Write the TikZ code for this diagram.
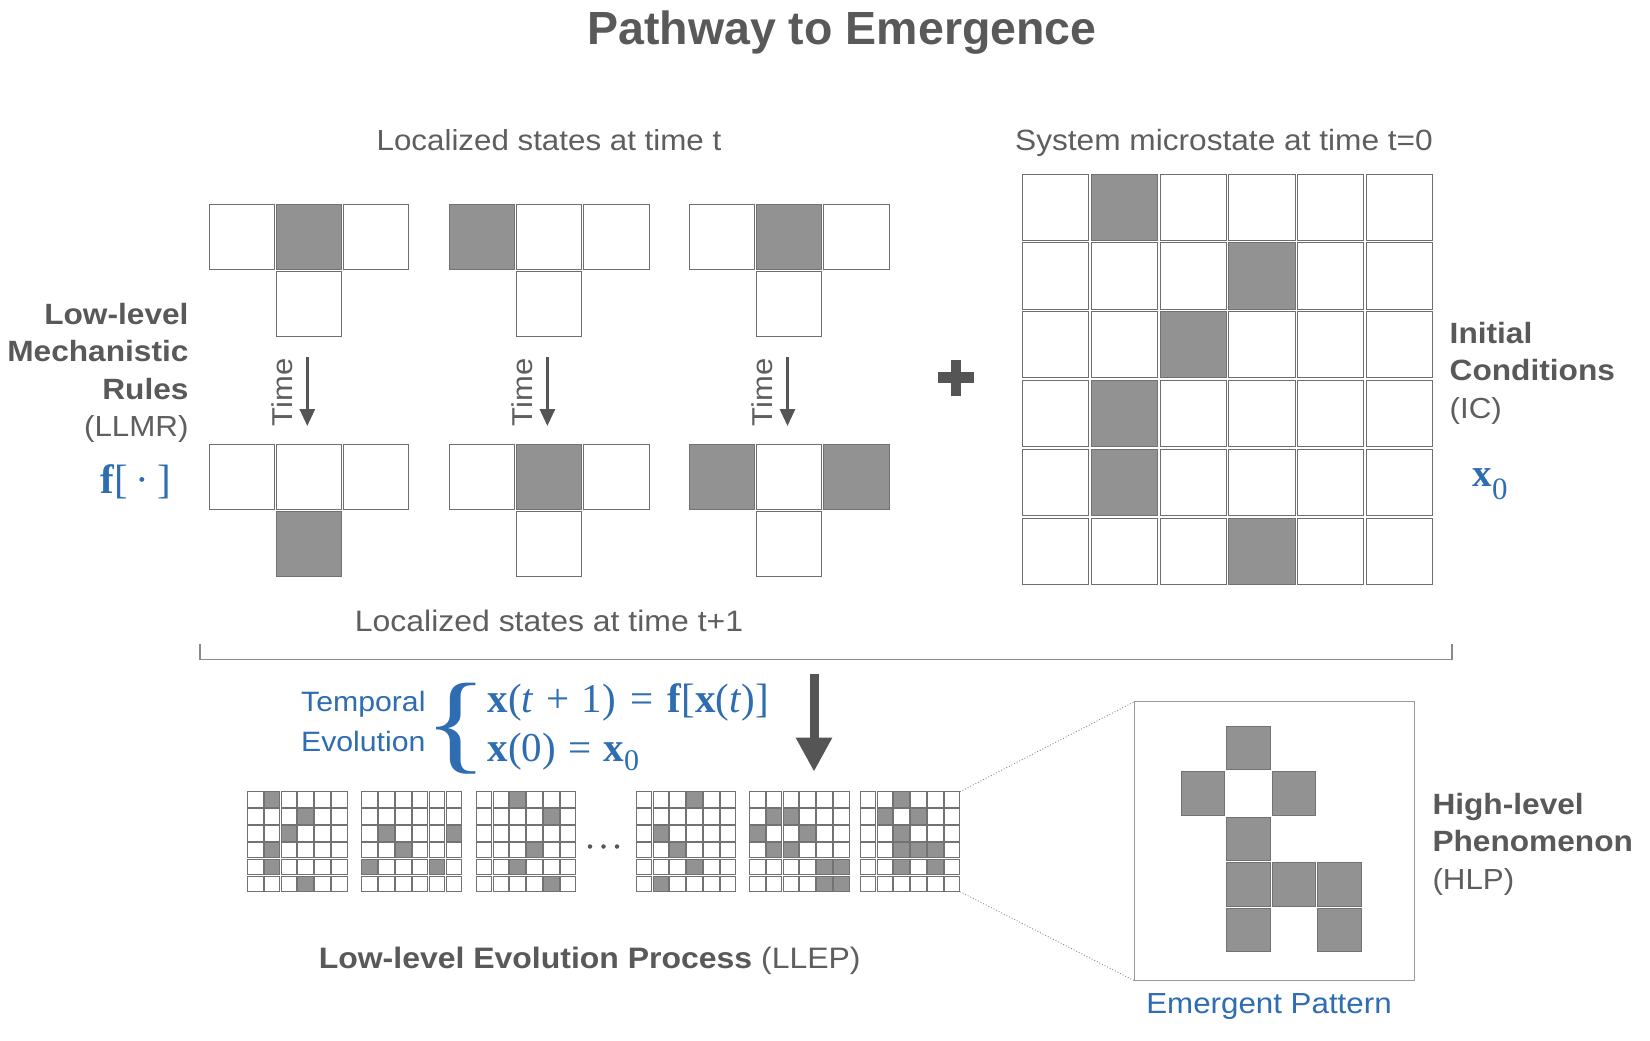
\documentclass[tikz,border=0pt]{standalone}
\usepackage{fontspec}
\setmainfont{Liberation Sans}[FakeStretch=1.08]
\newfontfamily\titlefont{Liberation Sans}
\newfontfamily\serifm{Liberation Serif}
\usepackage{graphicx}
\usetikzlibrary{arrows.meta}
\definecolor{txt}{HTML}{5E5E5E}
\definecolor{btxt}{HTML}{595959}
\definecolor{blu}{HTML}{2E6DB1}
\definecolor{cellgray}{HTML}{929292}
\definecolor{cellgrayline}{HTML}{727272}
\definecolor{cellline}{HTML}{6E6E6E}
\definecolor{smallline}{HTML}{727272}
\definecolor{boxc}{HTML}{9A9A9A}
\definecolor{dotline}{HTML}{8A8A8A}
\definecolor{bracec}{HTML}{8A8A8A}
\definecolor{arrowc}{HTML}{555555}
\newcommand\fsz[1]{\fontsize{#1}{#1}\selectfont}
\newcommand\Tshape[7]{%
  \node[#4] (#1a) at ({#2+32.65},{#3+32.65}) {};
  \node[#5] (#1b) at ({#2+99.95},{#3+32.65}) {};
  \node[#6] (#1c) at ({#2+167.25},{#3+32.65}) {};
  \node[#7] (#1d) at ({#2+99.95},{#3+99.95}) {};
}
\newcommand\smallgrid[3]{%
  \foreach \ii in {0,...,5}{\foreach \jj in {0,...,5}{%
    \node[swc] (#2-\ii-\jj) at ({#1+7.9+\jj*16.83},{791.7+7.9+\ii*16.83}) {};}}
  \foreach \ii/\jj in {#3}{%
    \node[sgc] (#2g-\ii-\jj) at ({#1+7.9+\jj*16.83},{791.7+7.9+\ii*16.83}) {};}
}
\begin{document}
\begin{tikzpicture}[x=1pt,y=-1pt,
  wc/.style={draw=cellline, fill=white, line width=1pt, minimum size=65.3pt, inner sep=0pt, outer sep=0pt},
  gc/.style={wc, fill=cellgray, draw=cellgrayline},
  bwc/.style={wc, minimum size=66.3pt},
  bgc/.style={gc, minimum size=66.3pt},
  swc/.style={draw=smallline, fill=white, line width=0.8pt, minimum size=15.6pt, inner sep=0pt, outer sep=0pt},
  sgc/.style={swc, fill=cellgray, draw=cellgrayline},
  egc/.style={gc, minimum size=43.5pt, line width=0.9pt},
  lbl/.style={text=txt, inner sep=0pt, outer sep=0pt, font=\fsz{29}},
  blbl/.style={lbl, text=btxt, font=\bfseries\fsz{29.3}},
  bluelbl/.style={text=blu, inner sep=0pt, outer sep=0pt},
  tarrow/.style={draw=arrowc, line width=3pt, -{Triangle[width=15pt,length=17pt]}},
]
\fill[white] (0,0) rectangle (1650,1041);
\useasboundingbox (0,0) rectangle (1650,1041);

% title
\node[text=btxt, inner sep=0pt, anchor=base, font=\titlefont\bfseries\fsz{46.5}] (title) at (842,45) {Pathway to Emergence};

% headings
\node[lbl, anchor=base] (loct) at (549,150) {Localized states at time t};
\node[lbl, anchor=base, font=\fsz{29.3}] (sysm) at (1224,150) {System microstate at time t=0};
\node[lbl, anchor=base, font=\fsz{29.6}] (loct1) at (549,631.7) {Localized states at time t+1};

% left labels
\node[blbl, anchor=base east] (llmr1) at (188.5,324) {Low-level};
\node[blbl, anchor=base east] (llmr2) at (188.5,361.7) {Mechanistic};
\node[blbl, anchor=base east] (llmr3) at (188.5,399.3) {Rules};
\node[lbl, anchor=base east] (llmr4) at (188.5,436.8) {(LLMR)};
\node[bluelbl, anchor=base east, font=\serifm\fsz{41}] (fdot) at (171.5,493.3) {\textbf{f}[\hspace{.2em}·\hspace{.2em}]};

% right labels
\node[blbl, anchor=base west] (ic1) at (1449.7,343.3) {Initial};
\node[blbl, anchor=base west] (ic2) at (1449.7,380.5) {Conditions};
\node[lbl, anchor=base west] (ic3) at (1449.7,418) {(IC)};
\node[bluelbl, anchor=base west, font=\serifm\fsz{39}] (xzero) at (1472.5,486.7) {\textbf{x}\raisebox{-12.5pt}{\fsz{31}0}};

% T shapes
\Tshape{Ta}{209}{204}{wc}{gc}{wc}{wc}
\Tshape{Tb}{449.1}{204}{gc}{wc}{wc}{wc}
\Tshape{Tc}{689.2}{204}{wc}{gc}{wc}{wc}
\Tshape{Ua}{209}{444}{wc}{wc}{wc}{gc}
\Tshape{Ub}{449.1}{444}{wc}{gc}{wc}{wc}
\Tshape{Uc}{689.2}{444}{gc}{wc}{gc}{wc}

% time arrows
\foreach \L/\n in {209/a,449.1/b,689.2/c}{
  \coordinate (ts\n) at ({\L+98.3},357);
  \coordinate (te\n) at ({\L+98.3},426);
  \draw[tarrow] (ts\n) -- (te\n);
  \node[lbl, rotate=90, anchor=base, font=\fsz{28.7}] (time\n) at ({\L+83},392.5) {Time};
}

% plus
\coordinate (pl1) at (938,377.5); \coordinate (pl2) at (974,377.5);
\coordinate (pl3) at (956,359.5); \coordinate (pl4) at (956,395.5);
\draw[line width=10.5pt, draw=arrowc] (pl1) -- (pl2) (pl3) -- (pl4);

% big grid
\foreach \ii in {0,...,5}{\foreach \jj in {0,...,5}{%
  \node[bwc] (B\ii\jj) at ({1022.4+33.15+\jj*68.8},{174+33.15+\ii*68.8}) {};}}
\foreach \ii/\jj in {0/1,1/3,2/2,3/1,4/1,5/3}{%
  \node[bgc] (BG\ii\jj) at ({1022.4+33.15+\jj*68.8},{174+33.15+\ii*68.8}) {};}

% brace line
\coordinate (brL) at (200,643.5);
\coordinate (brR) at (1452,643.5);
\draw[draw=bracec, line width=1.5pt] (brL) -- ++(0,16) -| (brR);

% big arrow
\coordinate (ba1) at (814,674);
\coordinate (ba2) at (814,771.7);
\draw[line width=9pt, draw=arrowc, -{Triangle[width=34pt,length=34pt]}] (ba1) -- (ba2);

% temporal evolution
\node[bluelbl, anchor=base east, font=\fsz{28}] (temp1) at (425.5,711.7) {Temporal};
\node[bluelbl, anchor=base east, font=\fsz{28}] (temp2) at (425.5,751.7) {Evolution};
\node[bluelbl, anchor=base, font=\serifm\fsz{110}] (brace) at (456,759.5) {\scalebox{1.2}[1]{\{}};
\node[bluelbl, anchor=base west, font=\serifm\fsz{41}] (eq1) at (487.5,712.3) {\textbf{x}(\textit{t}\hspace{.3em}+\hspace{.3em}1)\hspace{.35em}=\hspace{.35em}\textbf{f}[\textbf{x}(\textit{t})]};
\node[bluelbl, anchor=base west, font=\serifm\fsz{41}] (eq2) at (487.5,761.7) {\textbf{x}(0)\hspace{.3em}=\hspace{.3em}\textbf{x}\raisebox{-8.5pt}{\fsz{30}0}};

% small grids
\smallgrid{247.3}{sa}{0/1,1/3,2/2,3/1,4/1,5/3}
\smallgrid{361.7}{sb}{2/1,2/5,3/2,4/0,4/4}
\smallgrid{476}{sc}{0/2,1/4,3/3,4/2,5/4}
\smallgrid{636}{sd}{0/3,2/1,3/2,4/3,5/1}
\smallgrid{749.3}{se}{1/1,1/2,2/0,2/3,3/1,3/2,4/4,4/5,5/4,5/5}
\smallgrid{860}{sf}{0/2,1/1,1/3,2/2,3/2,3/3,3/4,4/2,4/4}

% dots
\foreach \k/\xx in {1/590,2/603.5,3/617}{
  \node[circle, fill=arrowc, inner sep=0pt, minimum size=4.5pt] (dot\k) at (\xx,846.5) {};
}

% emergent box
\coordinate (g6ne) at (959.95,791.7);
\coordinate (g6se) at (959.95,891.65);
\node[draw=boxc, line width=1.2pt, minimum width=279.9pt, minimum height=279pt, inner sep=0pt, outer sep=0pt] (emb) at (1274.35,841.2) {};
\draw[draw=dotline, line width=0.9pt, dotted] (g6ne) -- (emb.north west);
\draw[draw=dotline, line width=0.9pt, dotted] (g6se) -- (emb.south west);
\foreach \ii/\jj in {0/1,1/0,1/2,2/1,3/1,3/2,3/3,4/1,4/3}{%
  \node[egc] (E\ii\jj) at ({1181+21.75+\jj*45.6},{726+21.75+\ii*45.6}) {};}
\node[bluelbl, anchor=base, font=\fsz{29}] (emlab) at (1269,1013.3) {Emergent Pattern};

% HLP labels
\node[blbl, anchor=base west] (hlp1) at (1432.5,814) {High-level};
\node[blbl, anchor=base west] (hlp2) at (1432.5,851.7) {Phenomenon};
\node[lbl, anchor=base west] (hlp3) at (1432.5,889.5) {(HLP)};

% LLEP
\node[lbl, anchor=base west, font=\fsz{29.6}] (llep) at (318.8,968) {{\color{btxt}\bfseries Low-level Evolution Process} (LLEP)};
\end{tikzpicture}
\end{document}
